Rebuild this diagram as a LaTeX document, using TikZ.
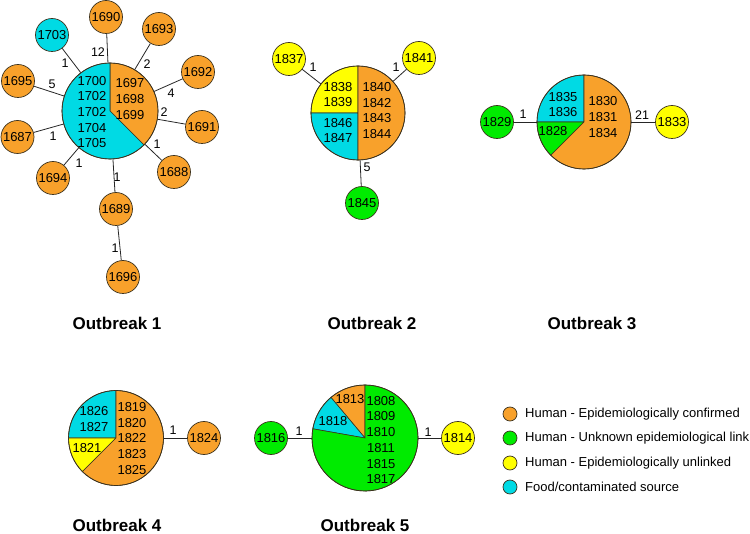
\documentclass[tikz,border=0pt]{standalone}
\usepackage{fontspec}
\setmainfont{Liberation Sans}
\usepackage{xcolor}
\definecolor{confirmed}{RGB}{248,161,43}
\definecolor{unknown}{RGB}{0,235,0}
\definecolor{unlinked}{RGB}{255,255,0}
\definecolor{food}{RGB}{0,218,228}
\definecolor{rim}{RGB}{60,50,30}

% one wedge of a pie: centre, radius, start angle, end angle, colour
\newcommand{\pieslice}[5]{%
  \filldraw[fill=#5, draw=rim, line width=0.6pt] (#1) -- ++(#3:#2pt)
    arc[start angle=#3, end angle=#4, radius=#2pt] -- cycle;}

\tikzset{
  iso/.style={circle, draw=rim, line width=0.7pt, minimum size=33pt, inner sep=0pt,
    font=\fontsize{13}{15}\selectfont},
  ring/.style={circle, draw=rim, line width=0.7pt, inner sep=0pt},
  txt/.style={align=center, inner sep=0pt, font=\fontsize{13}{15.7}\selectfont},
  lbl/.style={inner sep=0pt, font=\fontsize{12.5}{14}\selectfont},
  title/.style={font=\fontsize{17}{19}\selectfont\bfseries},
  key/.style={circle, draw=rim, line width=0.7pt, minimum size=14pt, inner sep=0pt},
  keytxt/.style={anchor=west, inner sep=0pt, font=\fontsize{13}{15}\selectfont},
  link/.style={line width=0.8pt, draw=black!85}
}

\begin{document}
\begin{tikzpicture}[x=1pt,y=1pt]
\useasboundingbox (0,0) rectangle (750,-534);

% Outbreak 1
\coordinate (c1) at (110,-111);
\pieslice{c1}{48}{-45}{90}{confirmed}
\pieslice{c1}{48}{90}{315}{food}
\node[ring, minimum size=96pt] (o1) at (c1) {};
\node[txt] (t1a) at (92,-112) {1700\\1702\\1702\\1704\\1705};
\node[txt] (t1b) at (130,-99) {1697\\1698\\1699};
\node[iso, fill=food] (n1703) at (52,-35) {1703};
\node[iso, fill=confirmed] (n1690) at (106,-17) {1690};
\node[iso, fill=confirmed] (n1693) at (159,-29) {1693};
\node[iso, fill=confirmed] (n1692) at (198,-72) {1692};
\node[iso, fill=confirmed] (n1691) at (202,-127) {1691};
\node[iso, fill=confirmed] (n1688) at (174,-172) {1688};
\node[iso, fill=confirmed] (n1689) at (116,-209) {1689};
\node[iso, fill=confirmed] (n1696) at (123,-277) {1696};
\node[iso, fill=confirmed] (n1694) at (53,-178) {1694};
\node[iso, fill=confirmed] (n1687) at (17.5,-137) {1687};
\node[iso, fill=confirmed] (n1695) at (18,-81) {1695};
\draw[link] (o1) -- (n1703);
\draw[link] (o1) -- (n1690);
\draw[link] (o1) -- (n1693);
\draw[link] (o1) -- (n1692);
\draw[link] (o1) -- (n1691);
\draw[link] (o1) -- (n1688);
\draw[link] (o1) -- (n1689);
\draw[link] (n1689) -- (n1696);
\draw[link] (o1) -- (n1694);
\draw[link] (o1) -- (n1687);
\draw[link] (o1) -- (n1695);
\node[lbl] (d1703) at (65,-63) {1};
\node[lbl] (d1690) at (98,-52) {12};
\node[lbl] (d1693) at (147,-64) {2};
\node[lbl] (d1692) at (171,-93) {4};
\node[lbl] (d1691) at (164,-112) {2};
\node[lbl] (d1688) at (157,-144) {1};
\node[lbl] (d1689) at (117,-177) {1};
\node[lbl] (d1696) at (115,-248) {1};
\node[lbl] (d1694) at (79,-163) {1};
\node[lbl] (d1687) at (53,-136) {1};
\node[lbl] (d1695) at (52,-84) {5};
\node[title] (h1) at (117,-323) {Outbreak 1};

% Outbreak 2
\coordinate (c2) at (358,-113);
\pieslice{c2}{47}{90}{180}{unlinked}
\pieslice{c2}{47}{180}{270}{food}
\pieslice{c2}{47}{-90}{90}{confirmed}
\node[ring, minimum size=94pt] (o2) at (c2) {};
\node[txt] (t2a) at (338,-94.5) {1838\\1839};
\node[txt] (t2b) at (338,-130.5) {1846\\1847};
\node[txt] (t2c) at (377,-110.5) {1840\\1842\\1843\\1844};
\node[iso, fill=unlinked] (n1837) at (289,-59) {1837};
\node[iso, fill=unlinked] (n1841) at (419,-58) {1841};
\node[iso, fill=unknown] (n1845) at (362,-203) {1845};
\draw[link] (o2) -- (n1837);
\draw[link] (o2) -- (n1841);
\draw[link] (o2) -- (n1845);
\node[lbl] (d1837) at (313,-67) {1};
\node[lbl] (d1841) at (396,-67) {1};
\node[lbl] (d1845) at (367,-167) {5};
\node[title] (h2) at (372,-323) {Outbreak 2};

% Outbreak 3
\coordinate (c3) at (584,-122);
\pieslice{c3}{47}{90}{180}{food}
\pieslice{c3}{47}{180}{225}{unknown}
\pieslice{c3}{47}{225}{450}{confirmed}
\node[ring, minimum size=94pt] (o3) at (c3) {};
\node[txt] (t3a) at (563,-104.5) {1835\\1836};
\node[txt] (t3b) at (553,-131) {1828};
\node[txt] (t3c) at (603,-117) {1830\\1831\\1834};
\node[iso, fill=unknown] (n1829) at (497,-122) {1829};
\node[iso, fill=unlinked] (n1833) at (672,-122) {1833};
\draw[link] (o3) -- (n1829);
\draw[link] (o3) -- (n1833);
\node[lbl] (d1829) at (523,-114) {1};
\node[lbl] (d1833) at (642,-115) {21};
\node[title] (h3) at (592,-323) {Outbreak 3};

% Outbreak 4
\coordinate (c4) at (116,-438);
\pieslice{c4}{47.5}{90}{180}{food}
\pieslice{c4}{47.5}{180}{225}{unlinked}
\pieslice{c4}{47.5}{225}{450}{confirmed}
\node[ring, minimum size=95pt] (o4) at (c4) {};
\node[txt] (t4a) at (94,-419) {1826\\1827};
\node[txt] (t4b) at (87,-448) {1821};
\node[txt] (t4c) at (132,-438.5) {1819\\1820\\1822\\1823\\1825};
\node[iso, fill=confirmed] (n1824) at (204,-438) {1824};
\draw[link] (o4) -- (n1824);
\node[lbl] (d1824) at (173,-430) {1};
\node[title] (h4) at (117,-525) {Outbreak 4};

% Outbreak 5
\coordinate (c5) at (365,-438);
\pieslice{c5}{53}{90}{130}{confirmed}
\pieslice{c5}{53}{130}{170}{food}
\pieslice{c5}{53}{170}{450}{unknown}
\node[ring, minimum size=106pt] (o5) at (c5) {};
\node[txt] (t5a) at (350,-399) {1813};
\node[txt] (t5b) at (333,-421) {1818};
\node[txt] (t5c) at (381,-440) {1808\\1809\\1810\\1811\\1815\\1817};
\node[iso, fill=unknown] (n1816) at (271,-438) {1816};
\node[iso, fill=unlinked] (n1814) at (458,-438) {1814};
\draw[link] (o5) -- (n1816);
\draw[link] (o5) -- (n1814);
\node[lbl] (d1816) at (299,-431) {1};
\node[lbl] (d1814) at (428,-432) {1};
\node[title] (h5) at (365,-525) {Outbreak 5};

% Legend
\node[key, fill=confirmed] (k1) at (510,-414) {};
\node[key, fill=unknown] (k2) at (510,-438) {};
\node[key, fill=unlinked] (k3) at (510,-463) {};
\node[key, fill=food] (k4) at (510,-487) {};
\node[keytxt] (k1t) at (525,-414) {Human - Epidemiologically confirmed};
\node[keytxt] (k2t) at (525,-438) {Human - Unknown epidemiological link};
\node[keytxt] (k3t) at (525,-463) {Human - Epidemiologically unlinked};
\node[keytxt] (k4t) at (525,-487) {Food/contaminated source};
\end{tikzpicture}
\end{document}
